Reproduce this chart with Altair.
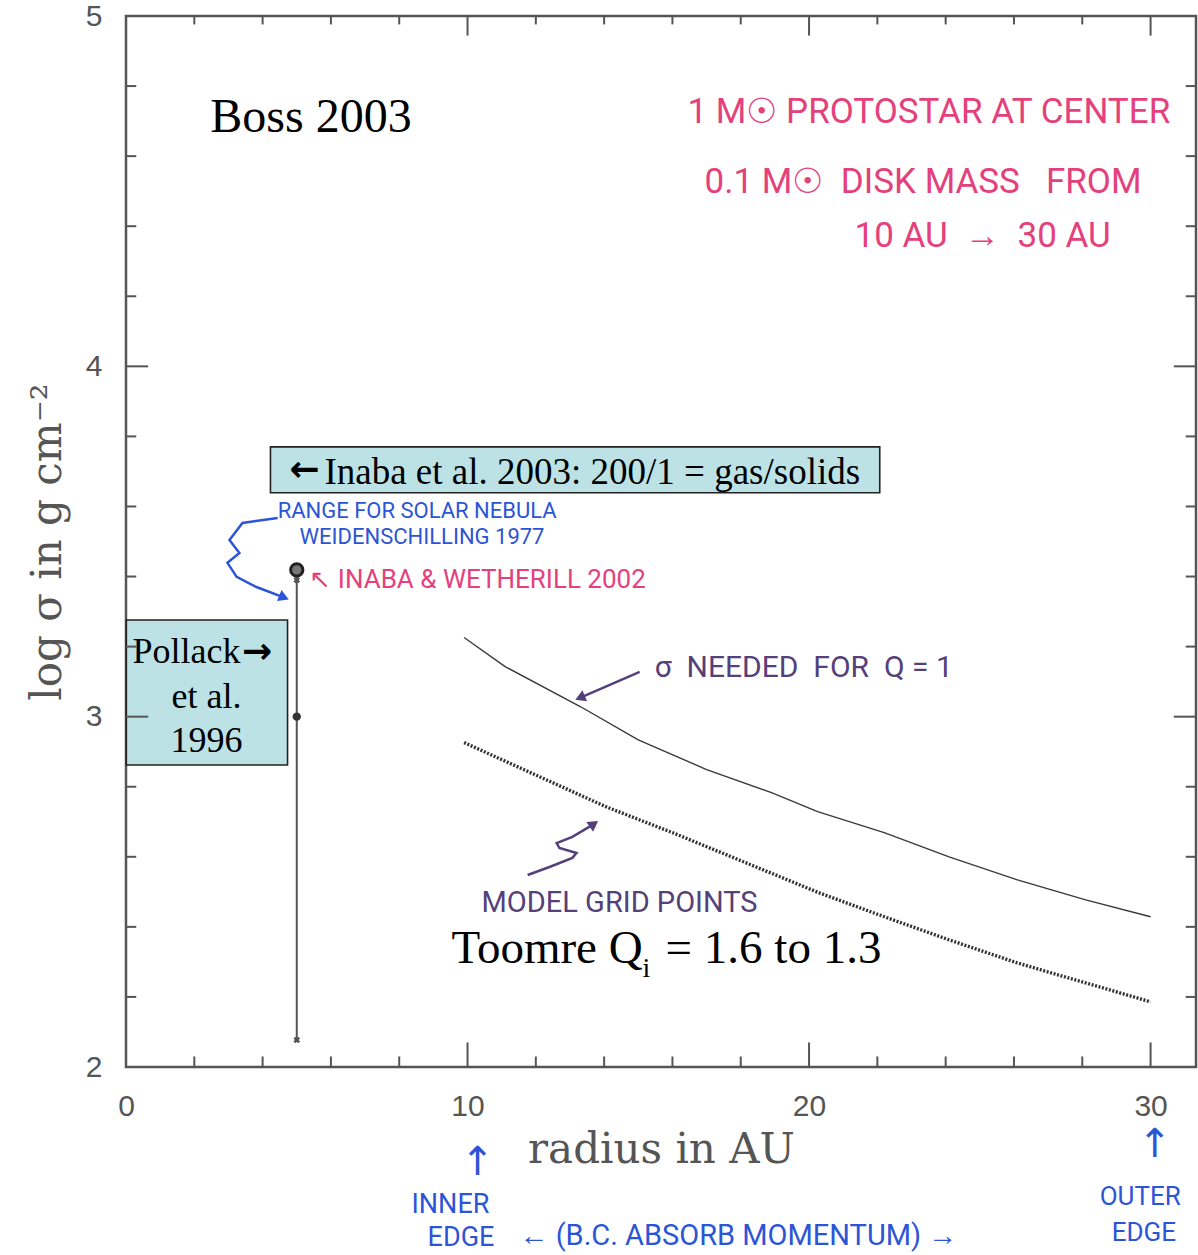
import altair as alt
import pandas as pd

# ---------------- data ----------------
# sigma needed for Q = 1 (solid curve)
q1_r = [9.9, 11.1, 13.3, 15.0, 17.0, 18.9, 20.25, 22.2, 24.1, 26.1, 28.1, 30.0]
q1_logsig = [3.226, 3.143, 3.029, 2.934, 2.849, 2.783, 2.729, 2.669, 2.600, 2.534, 2.477, 2.429]

# model grid points (dotted curve)
grid_r = [9.9, 12.1, 14.05, 16.0, 17.95, 20.3, 22.2, 24.1, 26.1, 28.1, 30.0]
grid_logsig = [2.926, 2.829, 2.743, 2.669, 2.591, 2.497, 2.429, 2.363, 2.297, 2.240, 2.186]

# Pollack et al. 1996 / Weidenschilling range at 5 AU
bar_r = [5.0]
bar_low = [2.077]
bar_high = [3.41]
bar_mid = [3.0]
inaba_wetherill_r = [5.0]
inaba_wetherill_logsig = [3.419]
cross_logsig = [3.39, 2.077]

# axis tick values
x_label_values = [0, 10, 20, 30]
y_label_values = [2, 3, 4, 5]
x_minor = [2, 4, 6, 8, 10, 12, 14, 16, 18, 20, 22, 24, 26, 28, 30]
x_major = [10, 20, 30]
y_minor = [2.2, 2.4, 2.6, 2.8, 3.0, 3.2, 3.4, 3.6, 3.8, 4.0, 4.2, 4.4, 4.6, 4.8]
y_major = [3.0, 4.0]

X_MAX = 31.33
Y_MIN, Y_MAX = 2.0, 5.0

# ---------------- shared encodings ----------------
xscale = alt.Scale(domain=[0, X_MAX], nice=False, zero=False)
yscale = alt.Scale(domain=[Y_MIN, Y_MAX], nice=False, zero=False)
xaxis = alt.Axis(values=x_label_values, title="radius in AU", labelFlush=False,
                 labelPadding=24, titlePadding=8, format="d")
yaxis = alt.Axis(values=y_label_values, title="log σ in g cm⁻²", labelFlush=False,
                 labelPadding=24, titlePadding=16, format="d")


def X(field="x"):
    return alt.X(f"{field}:Q", scale=xscale, axis=xaxis)


def Y(field="y"):
    return alt.Y(f"{field}:Q", scale=yscale, axis=yaxis)


# ---------------- ticks (inward, all four sides) ----------------
tick_rows = []
for t in x_minor:
    ln = 0.07 if t in x_major else 0.03
    tick_rows.append(dict(x=t, x2=t, y=Y_MIN, y2=Y_MIN + ln))
    tick_rows.append(dict(x=t, x2=t, y=Y_MAX, y2=Y_MAX - ln * 0.8))
for t in y_minor:
    ln = 0.65 if t in y_major else 0.3
    tick_rows.append(dict(x=0, x2=ln, y=t, y2=t))
    tick_rows.append(dict(x=X_MAX, x2=X_MAX - ln, y=t, y2=t))
ticks = alt.Chart(pd.DataFrame(tick_rows)).mark_rule(color="#555", strokeWidth=2).encode(
    x=X(), x2="x2:Q", y=Y(), y2="y2:Q")

# ---------------- curves ----------------
q1 = alt.Chart(pd.DataFrame({"x": q1_r, "y": q1_logsig})).mark_line(
    color="#3a3a3a", strokeWidth=1.4).encode(x=X(), y=Y())
grid = alt.Chart(pd.DataFrame({"x": grid_r, "y": grid_logsig})).mark_line(
    color="#333333", strokeWidth=3.4, strokeDash=[2, 1.6]).encode(x=X(), y=Y())

# ---------------- Pollack error bar ----------------
bar = alt.Chart(pd.DataFrame({"x": bar_r, "y": bar_low, "y2": bar_high})).mark_rule(
    color="#555", strokeWidth=2).encode(x=X(), y=Y(), y2="y2:Q")
mid = alt.Chart(pd.DataFrame({"x": bar_r, "y": bar_mid})).mark_point(
    filled=True, color="#333", size=70, opacity=1).encode(x=X(), y=Y())
iw = alt.Chart(pd.DataFrame({"x": inaba_wetherill_r, "y": inaba_wetherill_logsig})).mark_point(
    filled=True, fill="#777", stroke="#222", strokeWidth=3, size=150, opacity=1).encode(x=X(), y=Y())
crosses = alt.Chart(pd.DataFrame({"x": [5.0, 5.0], "y": cross_logsig})).mark_point(
    shape="cross", angle=45, filled=True, color="#555", size=45, opacity=1).encode(x=X(), y=Y())

# ---------------- boxes ----------------
box_df = pd.DataFrame({
    "x": [4.23, 0.01], "x2": [22.07, 4.73],
    "y": [3.770, 3.276], "y2": [3.639, 2.862],
})
boxes = alt.Chart(box_df).mark_rect(fill="#bce2e5", stroke="#222", strokeWidth=1.6).encode(
    x=X(), x2="x2:Q", y=Y(), y2="y2:Q")

# ---------------- typeset annotations ----------------
serif_left = pd.DataFrame({
    "x": [2.47, 5.81, 9.53, 15.12, 15.80, 0.19],
    "y": [4.669, 3.664, 2.297, 2.256, 2.297, 3.153],
    "t": ["Boss 2003", "Inaba et al. 2003: 200/1 = gas/solids", "Toomre Q", "i",
          "= 1.6 to 1.3", "Pollack"],
    "s": [48, 37, 47, 28, 47, 36],
})
serif_txt = alt.Chart(serif_left).mark_text(
    align="left", baseline="alphabetic", font="Liberation Serif", color="black").encode(
    x=X(), y=Y(), text="t:N", size=alt.Size("s:Q", scale=None))

pollack_df = pd.DataFrame({
    "x": [2.36, 2.36],
    "y": [3.025, 2.899],
    "t": ["et al.", "1996"],
})
pollack_txt = alt.Chart(pollack_df).mark_text(
    align="center", baseline="alphabetic", font="Liberation Serif", fontSize=36, color="black").encode(
    x=X(), y=Y(), text="t:N")

box_arrows = pd.DataFrame({
    "x": [4.79, 3.40],
    "y": [3.703, 3.185],
    "t": ["←", "→"],
})
box_arrow_txt = alt.Chart(box_arrows).mark_text(
    align="left", baseline="middle", font="DejaVu Sans", fontSize=36, fontWeight="bold",
    color="black").encode(x=X(), y=Y(), text="t:N")

# ---------------- handwritten annotations ----------------
PINK, BLUE, PURPLE = "#e4417c", "#2c55d6", "#55407a"
NB = "\u00a0"
hand_df = pd.DataFrame({
    "x": [16.44, 16.94, 21.33, 5.37, 4.44, 5.08, 8.36, 8.83, 11.52, 28.51, 28.86, 15.48, 10.41],
    "y": [4.726, 4.526, 4.372, 3.390, 3.587, 3.512, 1.606, 1.512, 1.518, 1.629, 1.526, 3.139, 2.468],
    "t": ["1 M☉ PROTOSTAR AT CENTER",
          f"0.1 M☉{NB}{NB}DISK MASS{NB}{NB}{NB}FROM",
          f"10 AU{NB}{NB}→{NB}{NB}30 AU",
          "↖ INABA & WETHERILL 2002",
          "RANGE FOR SOLAR NEBULA", "WEIDENSCHILLING 1977",
          "INNER", "EDGE", "← (B.C. ABSORB MOMENTUM) →", "OUTER", "EDGE",
          f"σ{NB}{NB}NEEDED{NB}{NB}FOR{NB}{NB}Q = 1", "MODEL GRID POINTS"],
    "c": [PINK, PINK, PINK, PINK, BLUE, BLUE, BLUE, BLUE, BLUE, BLUE, BLUE, PURPLE, PURPLE],
    "s": [35, 35, 35, 26, 22, 22, 27, 27, 29, 26, 26, 30, 29],
})
hand_txt = alt.Chart(hand_df).mark_text(
    align="left", baseline="middle", font="Roboto").encode(
    x=X(), y=Y(), text="t:N",
    color=alt.Color("c:N", scale=None), size=alt.Size("s:Q", scale=None))

up_df = pd.DataFrame({"x": [10.29, 30.12], "y": [1.726, 1.777], "t": ["↑", "↑"]})
up_txt = alt.Chart(up_df).mark_text(
    align="center", baseline="middle", font="DejaVu Sans", fontSize=40, color=BLUE).encode(
    x=X(), y=Y(), text="t:N")

# hand-drawn arrows (paths)
arrow_df = pd.DataFrame({
    "g": ["sig"] * 2 + ["grid"] * 8 + ["range"] * 8,
    "o": [0, 1] + list(range(8)) + list(range(8)),
    "x": [15.04, 13.34,
          11.76, 12.40, 13.07, 13.19, 12.69, 12.61, 13.07, 13.66,
          4.44, 3.41, 3.03, 3.32, 2.97, 3.24, 3.82, 4.58],
    "y": [3.128, 3.056,
          2.548, 2.571, 2.597, 2.611, 2.625, 2.639, 2.657, 2.691,
          3.567, 3.553, 3.504, 3.467, 3.439, 3.399, 3.370, 3.342],
    "c": [PURPLE] * 10 + [BLUE] * 8,
})
arrows = alt.Chart(arrow_df).mark_line(strokeWidth=2.5).encode(
    x=X(), y=Y(), order="o:Q", detail="g:N", color=alt.Color("c:N", scale=None))

head_df = pd.DataFrame({
    "x": [13.34, 13.66, 4.58],
    "y": [3.056, 2.691, 3.342],
    "a": [247, 55, 112],
    "c": [PURPLE, PURPLE, BLUE],
})
heads = alt.Chart(head_df).mark_point(shape="triangle", filled=True, size=140, opacity=1).encode(
    x=X(), y=Y(), angle=alt.Angle("a:Q", scale=None), color=alt.Color("c:N", scale=None))

chart = alt.layer(
    boxes, ticks, q1, grid, bar, mid, iw, crosses,
    serif_txt, pollack_txt, box_arrow_txt, hand_txt, up_txt, arrows, heads,
).properties(
    width=1070, height=1051,
    autosize=alt.AutoSizeParams(type="none"),
    padding={"left": 126, "top": 16, "right": 2, "bottom": 188},
    background="white",
).configure_view(
    stroke="#555", strokeWidth=2.5,
).configure_axis(
    grid=False, ticks=False, domain=False,
    labelColor="#555", labelFont="Liberation Sans", labelFontSize=30,
    titleColor="#555", titleFont="DejaVu Serif", titleFontSize=42, titleFontWeight="normal",
)

chart.save("out.html", embed_options={"renderer": "svg", "actions": False})
